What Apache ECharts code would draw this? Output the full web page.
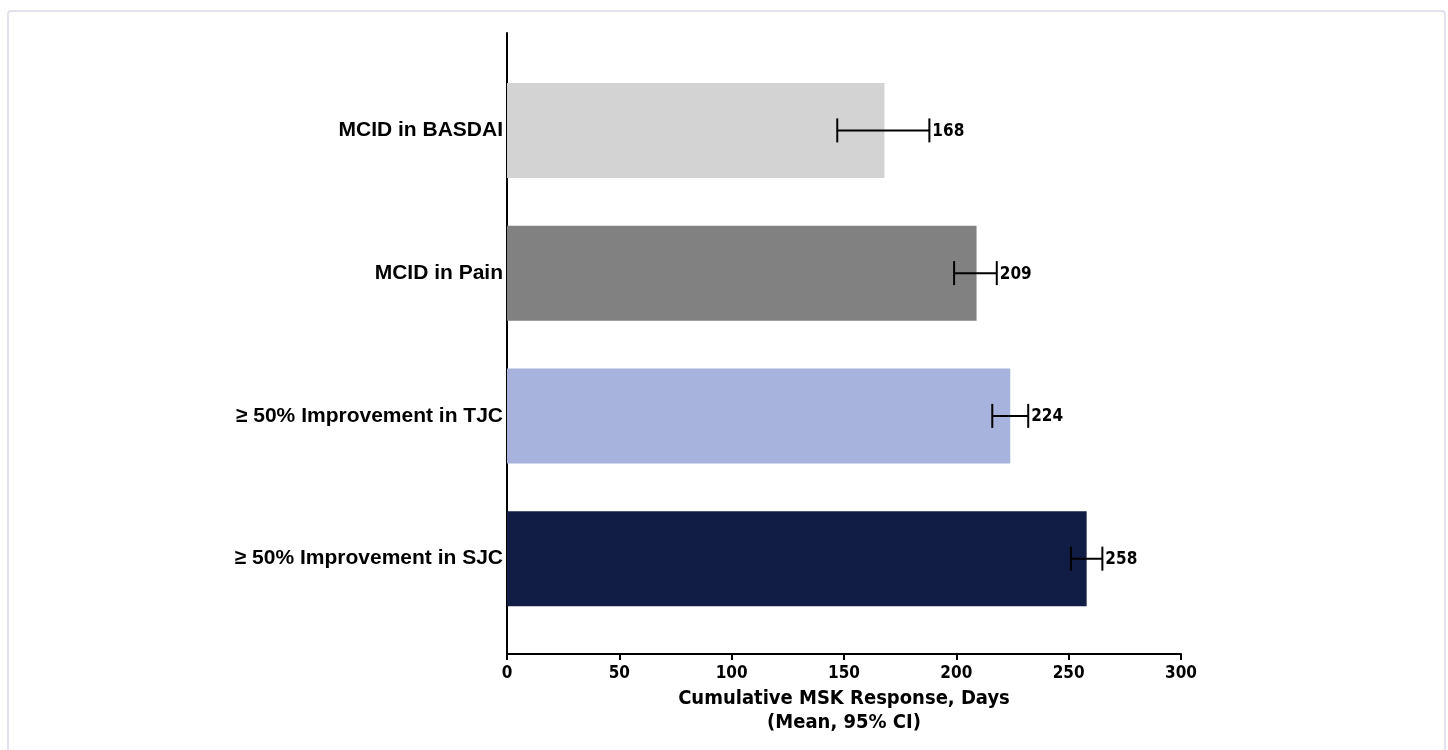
<!DOCTYPE html>
<html>
<head>
<meta charset="utf-8">
<script src="https://cdn.jsdelivr.net/npm/echarts@6/dist/echarts.min.js"></script>
<style>
  html, body { margin: 0; padding: 0; background: #fff; }
  #root { width: 1448px; height: 750px; }
</style>
</head>
<body>
<div id="root"></div>
<script>
const categories = ['MCID in BASDAI', 'MCID in Pain', '≥ 50% Improvement in TJC', '≥ 50% Improvement in SJC'];
const means = [168, 209, 224, 258];
const ciLow = [147, 199, 216, 251];
const ciHigh = [188, 218, 232, 265];
const barColors = ['#d3d3d3', '#818181', '#a7b3dc', '#121d46'];
const xTicks = [0, 300, 50];

const narrow = '"Liberation Sans Narrow", "DejaVu Sans Condensed", sans-serif';
const gridLeft = 507, gridRight = 267;

let root = document.getElementById('root');
let myChart = echarts.init(root);

let option = {
  animation: false,
  graphic: [{
    type: 'rect',
    shape: { x: 8, y: 11, width: 1437, height: 760, r: 3 },
    style: { fill: 'none', stroke: '#e3e3ee', lineWidth: 2 },
    silent: true
  }],
  grid: [
    // bars
    { left: gridLeft, right: gridRight, top: 59, bottom: 120 },
    // axis frame
    { left: gridLeft, right: gridRight, top: 33, bottom: 96 }
  ],
  xAxis: [
    { gridIndex: 0, type: 'value', min: xTicks[0], max: xTicks[1], interval: xTicks[2], show: false },
    {
      gridIndex: 1, type: 'value', min: xTicks[0], max: xTicks[1], interval: xTicks[2],
      axisLine: { show: true, lineStyle: { color: '#000', width: 2 } },
      axisTick: { show: true, length: 6, lineStyle: { color: '#000', width: 2 } },
      splitLine: { show: false },
      axisLabel: { color: '#000', fontFamily: narrow, fontWeight: 'bold', fontSize: 17, margin: 11 },
      name: 'Cumulative MSK Response, Days\n(Mean, 95% CI)',
      nameLocation: 'middle',
      nameGap: 27,
      nameTextStyle: { color: '#000', fontFamily: narrow, fontWeight: 'bold', fontSize: 20, lineHeight: 24, verticalAlign: 'top' }
    }
  ],
  yAxis: [
    {
      gridIndex: 0, type: 'category', data: categories, inverse: true,
      axisLine: { show: false }, axisTick: { show: false },
      axisLabel: { color: '#000', fontFamily: '"Liberation Sans", Arial, sans-serif', fontWeight: 'bold', fontSize: 21, margin: 4 }
    },
    {
      gridIndex: 1, type: 'value', min: 0, max: 1,
      axisLine: { show: true, lineStyle: { color: '#000', width: 2 } },
      axisTick: { show: false }, axisLabel: { show: false }, splitLine: { show: false }
    }
  ],
  series: [
    {
      type: 'bar',
      xAxisIndex: 0, yAxisIndex: 0,
      barWidth: 95,
      data: means.map((v, i) => ({ value: v, itemStyle: { color: barColors[i] } })),
      z: 2
    },
    {
      type: 'custom',
      xAxisIndex: 0, yAxisIndex: 0,
      data: categories.map((c, i) => [i, ciLow[i], ciHigh[i], means[i]]),
      renderItem: function (params, api) {
        const idx = api.value(0);
        const lo = api.coord([api.value(1), idx]);
        const hi = api.coord([api.value(2), idx]);
        const y = lo[1];
        const cap = 12;
        const ls = { stroke: '#000', lineWidth: 2 };
        return {
          type: 'group',
          children: [
            { type: 'line', shape: { x1: lo[0], y1: y, x2: hi[0], y2: y }, style: ls },
            { type: 'line', shape: { x1: lo[0], y1: y - cap, x2: lo[0], y2: y + cap }, style: ls },
            { type: 'line', shape: { x1: hi[0], y1: y - cap, x2: hi[0], y2: y + cap }, style: ls },
            {
              type: 'text',
              x: hi[0] + 3, y: y + 1,
              style: {
                text: String(api.value(3)),
                fill: '#000', font: 'bold 17px ' + narrow,
                textAlign: 'left', textVerticalAlign: 'middle'
              }
            }
          ]
        };
      },
      z: 5
    }
  ]
};
myChart.setOption(option);
</script>
</body>
</html>
